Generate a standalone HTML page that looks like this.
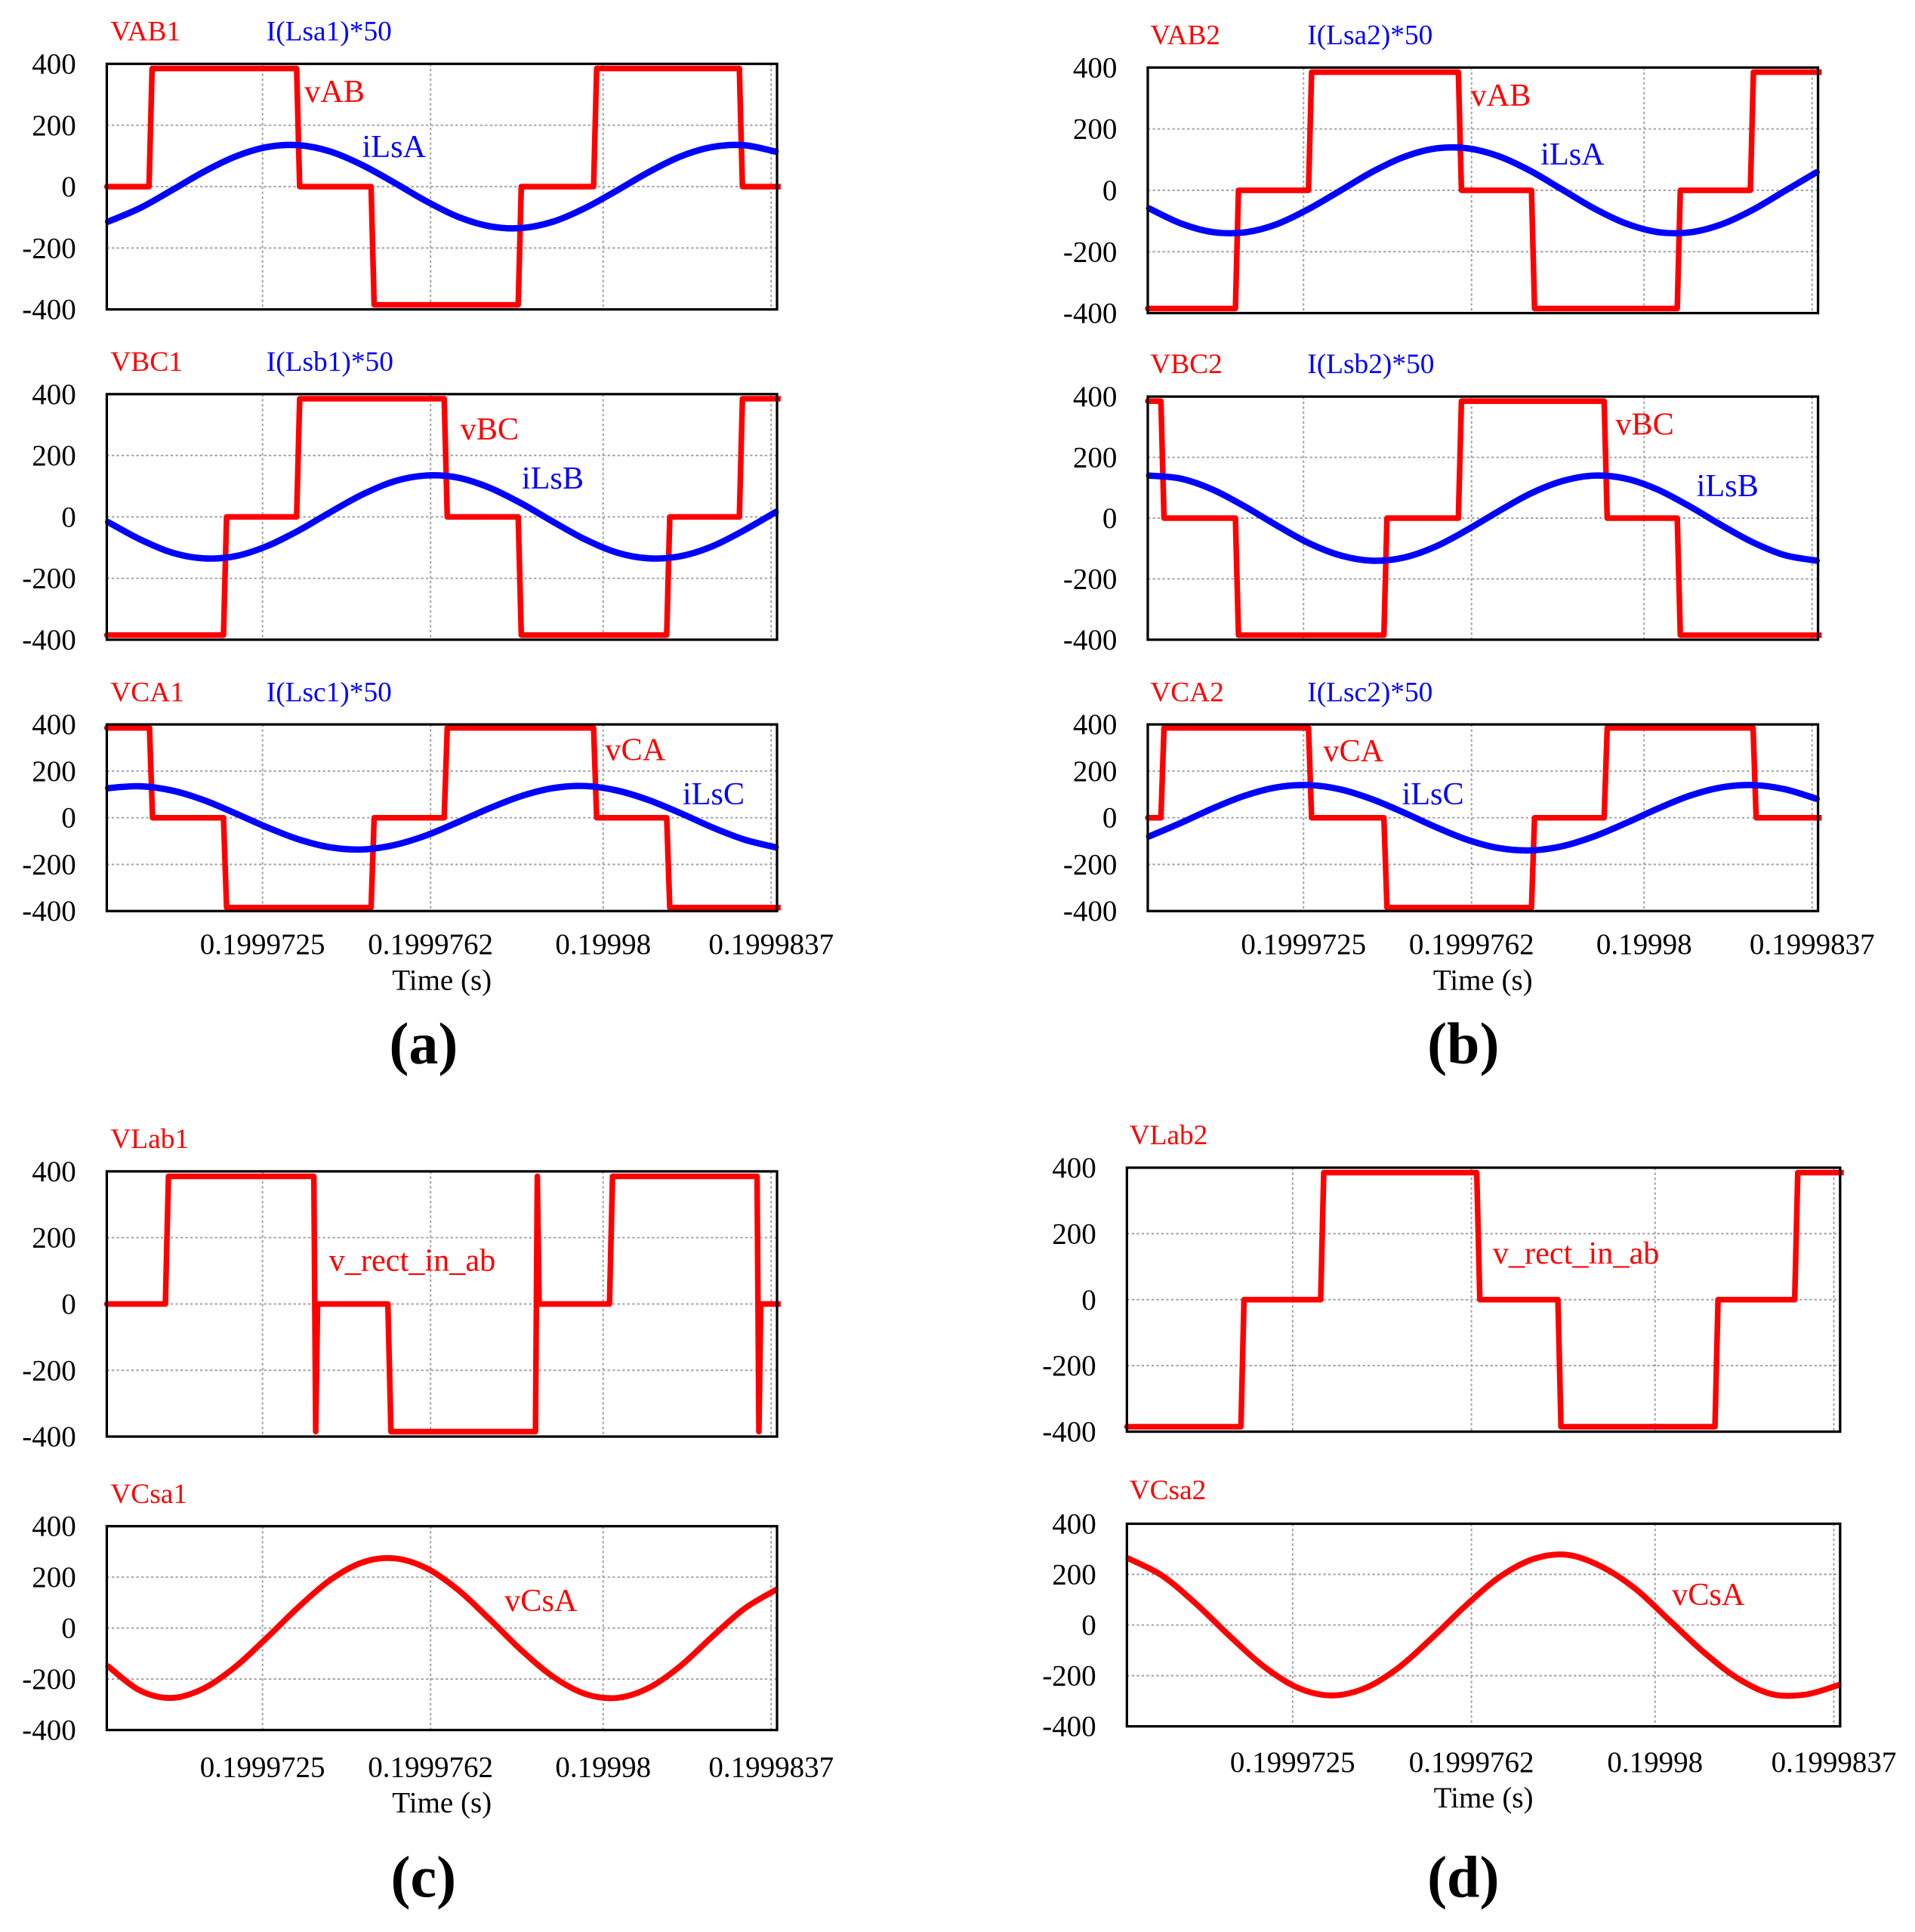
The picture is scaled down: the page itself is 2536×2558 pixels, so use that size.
<!DOCTYPE html>
<html><head><meta charset="utf-8"><style>
html,body{margin:0;padding:0;background:#fff}
svg{display:block}
text{font-family:"Liberation Serif","DejaVu Serif",serif}
</style></head>
<body>
<svg id="fig" width="2536" height="2558" viewBox="0 0 1560 1573.5" preserveAspectRatio="none" xmlns="http://www.w3.org/2000/svg"></svg>
<script>
// time axis (µs offset from 0.19997 s)
const tDomain = [-0.93, 13.83];
const xTickT = [2.5, 6.2, 10.0, 13.7];
const xTickLabels = ['0.1999725','0.1999762','0.19998','0.1999837'];
const yTicks = [400, 200, 0, -200, -400];
const yTickLabels = ['400','200','0','-200','-400'];
const tGrid = [-0.9,-0.2,0.5,1.2,1.9,2.6,3.3,4.0,4.7,5.4,6.1,6.8,7.5,8.2,8.9,9.6,10.3,11.0,11.7,12.4,13.1,13.8];

// (a) voltages: edge times and levels
const vab1Edges = [0.0,3.25,4.89,8.13,9.79,13.0];
const vab1Levels = [0,385,0,-385,0,385,0];
const vbc1Edges = [1.64,3.25,6.5,8.13,11.4,13.0];
const vbc1Levels = [-385,0,385,0,-385,0,385];
const vca1Edges = [0.01,1.64,4.89,6.5,9.79,11.4];
const vca1Levels = [385,0,-385,0,385,0,-385];
// (a) currents (x50)
const ilsa1 = [-114,-70,-12,48,98,129,135,114,70,13,-47,-98,-129,-135,-114,-70,-13,47,98,129,135,114];
const ilsb1 = [-17,-73,-116,-135,-128,-95,-44,16,73,116,135,128,95,44,-16,-73,-116,-135,-128,-96,-44,16];
const ilsc1 = [127,135,117,76,19,-41,-93,-127,-136,-117,-76,-19,41,93,127,136,117,76,20,-41,-93,-127];
// (b)
const vab2Edges = [1.0,2.61,5.91,7.52,10.73,12.34];
const vab2Levels = [-385,0,385,0,-385,0,385];
const vbc2Edges = [-0.64,1.0,4.27,5.91,9.12,10.73];
const vbc2Levels = [385,0,-385,0,385,0,-385];
const vca2Edges = [-0.64,2.61,4.27,7.52,9.12,12.4];
const vca2Levels = [0,385,0,-385,0,385,0];
const ilsa2 = [-59,-108,-136,-137,-111,-62,-2,59,108,136,137,111,63,2,-59,-108,-136,-137,-111,-63,-2,59];
const ilsb2 = [140,130,94,39,-23,-81,-122,-140,-130,-94,-39,23,81,122,140,130,94,39,-23,-80,-122,-140];
const ilsc2 = [-80,-22,40,94,130,140,122,80,23,-39,-94,-130,-140,-122,-80,-23,39,94,130,140,122,81];
// (c)
const vlab1Edges = [0.36,3.63,5.26,8.51,10.14,13.39];
const vlab1Levels = [0,385,0,-385,0,385,0];
const vlab1Spikes = [null,-385,null,385,null,-385];
const vcsa1 = [-150,-245,-274,-237,-152,-37,84,190,258,274,236,151,35,-87,-191,-258,-274,-235,-149,-34,75,150];
// (d)
const vlab2Edges = [1.43,3.08,6.31,7.99,11.24,12.89];
const vlab2Levels = [-385,0,385,0,-385,0,385];
const vcsa2 = [263,195,84,-44,-163,-247,-278,-249,-167,-48,80,192,262,277,230,142,18,-106,-209,-272,-275,-237];

const NS = 'http://www.w3.org/2000/svg';
const svg = document.getElementById('fig');
const RED = '#ff0000', BLUE = '#0000ff';
let clipId = 0;

function mk(tag, attrs, parent) {
  const e = document.createElementNS(NS, tag);
  for (const k in attrs) e.setAttribute(k, attrs[k]);
  (parent || svg).appendChild(e);
  return e;
}
function txt(str, x, y, size, fill, anchor, parent, extra) {
  const t = mk('text', Object.assign({x: x, y: y, 'font-size': size, fill: fill, 'text-anchor': anchor || 'start'}, extra || {}), parent);
  t.textContent = str;
  return t;
}

function panel(p) {
  const g = mk('g', {});
  
  
  const xs = t => p.x0 + (t - tDomain[0]) / (tDomain[1] - tDomain[0]) * (p.x1 - p.x0);
  const ys = v => (p.y0 + p.y1) / 2 - v / 400 * (p.y1 - p.y0) / 2;
  const id = 'clip' + (clipId++);
  const cp = mk('clipPath', {id: id}, g);
  mk('rect', {x: p.x0 - 3, y: p.y0 - 4, width: p.x1 - p.x0 + 6, height: p.y1 - p.y0 + 8}, cp);
  const grid = mk('g', {stroke: '#a0a0a0', 'stroke-width': 1.2, 'stroke-dasharray': '2,2'}, g);
  
  
  [200, 0, -200].forEach(v => mk('line', {x1: p.x0, x2: p.x1, y1: ys(v), y2: ys(v)}, grid));
  xTickT.forEach(t => mk('line', {x1: xs(t), x2: xs(t), y1: p.y0, y2: p.y1}, grid));
  yTicks.forEach((v, i) => {
    const t = txt(yTickLabels[i], p.x0 - 25, ys(v) + 8, 24, '#000', 'end', g);
    
    
  });
  const tr = mk('g', {'clip-path': 'url(#' + id + ')', fill: 'none', 'stroke-linejoin': 'round', 'stroke-linecap': 'round'}, g);
  if (p.edges) {
    const lv = p.levels;
    let d = 'M' + xs(tDomain[0]) + ',' + ys(lv[0]);
    p.edges.forEach((t, i) => {
      d += ' L' + xs(t) + ',' + ys(lv[i]);
      if (p.spikes && p.spikes[i] !== null) {
        d += ' L' + (xs(t) + 1.5) + ',' + ys(p.spikes[i]);
        d += ' L' + (xs(t) + 3) + ',' + ys(lv[i + 1]);
      } else {
        d += ' L' + (xs(t) + 2.5) + ',' + ys(lv[i + 1]);
      }
    });
    d += ' L' + xs(tDomain[1] + 0.1) + ',' + ys(lv[lv.length - 1]);
    const pth = mk('path', {d: d, stroke: RED, 'stroke-width': 4.6}, tr);
    
    
  }
  if (p.curve) {
    const pts = tGrid.map((t, i) => [xs(t), ys(p.curve[i])]);
    let d = 'M' + pts[0][0] + ',' + pts[0][1];
    for (let i = 0; i < pts.length - 1; i++) {
      const a = pts[Math.max(0, i - 1)], b = pts[i], c = pts[i + 1], e = pts[Math.min(pts.length - 1, i + 2)];
      d += ' C' + (b[0] + (c[0] - a[0]) / 6) + ',' + (b[1] + (c[1] - a[1]) / 6) + ' ' + (c[0] - (e[0] - b[0]) / 6) + ',' + (c[1] - (e[1] - b[1]) / 6) + ' ' + c[0] + ',' + c[1];
    }
    const pth = mk('path', {d: d, stroke: p.curveColor, 'stroke-width': p.curveColor === BLUE ? 5.2 : 4.8}, tr);
    
    
  }
  const fr = mk('rect', {x: p.x0, y: p.y0, width: p.x1 - p.x0, height: p.y1 - p.y0, fill: 'none', stroke: '#000', 'stroke-width': 2}, g);
  
  
  p.labels.forEach(L => {
    const t = txt(L[0], L[1], L[2], L[3], L[4], 'start', g);
    
    
  });
  if (p.xticks) {
    xTickT.forEach((t, i) => {
      const e = txt(xTickLabels[i], xs(t), p.xtickY, 24, '#000', 'middle', g);
      
      
    });
    const e = txt('Time (s)', (p.x0 + p.x1) / 2, p.xtickY + 29, 24, '#000', 'middle', g);
    
    
  }
}

panel({name:'panel-a-vab', x0:87, x1:633, y0:52, y1:252, edges:vab1Edges, levels:vab1Levels, curve:ilsa1, curveColor:BLUE,
  labels:[['VAB1',90,33,23,RED],['I(Lsa1)*50',217,33,23,BLUE],['vAB',248,83,26,RED],['iLsA',295,128,26,BLUE]]});
panel({name:'panel-a-vbc', x0:87, x1:633, y0:321, y1:521, edges:vbc1Edges, levels:vbc1Levels, curve:ilsb1, curveColor:BLUE,
  labels:[['VBC1',90,302,23,RED],['I(Lsb1)*50',217,302,23,BLUE],['vBC',375,358,26,RED],['iLsB',425,398,26,BLUE]]});
panel({name:'panel-a-vca', x0:87, x1:633, y0:590, y1:742, edges:vca1Edges, levels:vca1Levels, curve:ilsc1, curveColor:BLUE, xticks:true, xtickY:777,
  labels:[['VCA1',90,571,23,RED],['I(Lsc1)*50',217,571,23,BLUE],['vCA',493,619,26,RED],['iLsC',556,655,26,BLUE]]});
panel({name:'panel-b-vab', x0:935, x1:1481, y0:55, y1:255, edges:vab2Edges, levels:vab2Levels, curve:ilsa2, curveColor:BLUE,
  labels:[['VAB2',937,36,23,RED],['I(Lsa2)*50',1065,36,23,BLUE],['vAB',1198,86,26,RED],['iLsA',1255,134,26,BLUE]]});
panel({name:'panel-b-vbc', x0:935, x1:1481, y0:323, y1:521, edges:vbc2Edges, levels:vbc2Levels, curve:ilsb2, curveColor:BLUE,
  labels:[['VBC2',937,304,23,RED],['I(Lsb2)*50',1065,304,23,BLUE],['vBC',1316,354,26,RED],['iLsB',1382,404,26,BLUE]]});
panel({name:'panel-b-vca', x0:935, x1:1481, y0:590, y1:742, edges:vca2Edges, levels:vca2Levels, curve:ilsc2, curveColor:BLUE, xticks:true, xtickY:777,
  labels:[['VCA2',937,571,23,RED],['I(Lsc2)*50',1065,571,23,BLUE],['vCA',1078,620,26,RED],['iLsC',1142,655,26,BLUE]]});
panel({name:'panel-c-vlab', x0:87, x1:633, y0:954, y1:1170, edges:vlab1Edges, levels:vlab1Levels, spikes:vlab1Spikes,
  labels:[['VLab1',90,935,23,RED],['v_rect_in_ab',268,1035,26,RED]]});
panel({name:'panel-c-vcsa', x0:87, x1:633, y0:1243, y1:1409, curve:vcsa1, curveColor:RED, xticks:true, xtickY:1447,
  labels:[['VCsa1',90,1224,23,RED],['vCsA',411,1312,26,RED]]});
panel({name:'panel-d-vlab', x0:918, x1:1499, y0:951, y1:1166, edges:vlab2Edges, levels:vlab2Levels,
  labels:[['VLab2',920,932,23,RED],['v_rect_in_ab',1216,1029,26,RED]]});
panel({name:'panel-d-vcsa', x0:918, x1:1499, y0:1241, y1:1406, curve:vcsa2, curveColor:RED, xticks:true, xtickY:1443,
  labels:[['VCsa2',920,1221,23,RED],['vCsA',1362,1307,26,RED]]});

[['(a)',345,866],['(b)',1192,866],['(c)',345,1545],['(d)',1192,1545]].forEach(c => {
  const t = txt(c[0], c[1], c[2], 48, '#000', 'middle', svg, {'font-weight': 'bold'});
  
  
});
</script>
</body></html>
